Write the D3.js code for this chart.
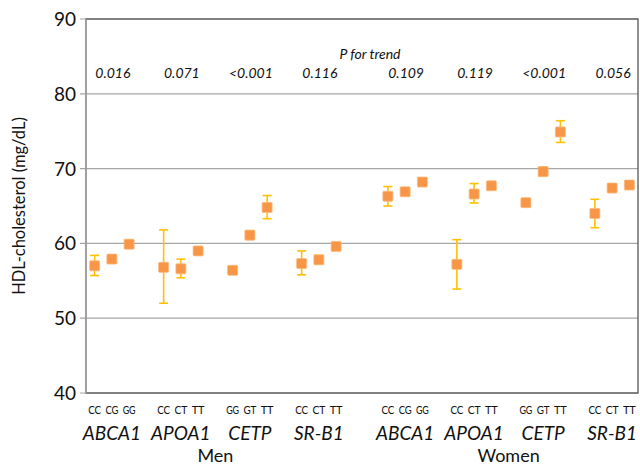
<!DOCTYPE html>
<html>
<head>
<meta charset="utf-8">
<script src="https://cdn.jsdelivr.net/npm/d3@7"></script>
<style>
  body { margin: 0; background: #fff; }
  text { font-family: Lato, "Open Sans", sans-serif; fill: #111; }
</style>
</head>
<body>
<div id="chart"></div>
<script>
// genes, genotypes and p-values per sex
let sexes = ['Men', 'Women'];
let genes = ['ABCA1', 'APOA1', 'CETP', 'SR-B1'];
let genotypes = [['CC', 'CG', 'GG'], ['CC', 'CT', 'TT'], ['GG', 'GT', 'TT'], ['CC', 'CT', 'TT']];
let pTrend = [['0.016', '0.071', '<0.001', '0.116'], ['0.109', '0.119', '<0.001', '0.056']];

// mean HDL per genotype, in gene order
let menMean = [57.0, 57.9, 59.9, 56.8, 56.6, 59.0, 56.4, 61.1, 64.8, 57.3, 57.8, 59.6];
let menLow = [55.7, 57.4, 59.4, 52.0, 55.4, 58.6, 56.1, 60.6, 63.3, 55.8, 57.3, 59.2];
let menHigh = [58.4, 58.4, 60.4, 61.8, 57.9, 59.5, 56.8, 61.7, 66.4, 59.0, 58.4, 60.1];
let womenMean = [66.3, 66.9, 68.2, 57.2, 66.6, 67.7, 65.45, 69.6, 74.9, 64.0, 67.4, 67.8];
let womenLow = [65.0, 66.4, 67.8, 53.9, 65.4, 67.3, 65.1, 69.0, 73.5, 62.1, 66.9, 67.4];
let womenHigh = [67.6, 67.4, 68.6, 60.5, 68.0, 68.1, 65.8, 70.2, 76.4, 65.9, 67.9, 68.2];

let yTicks = [40, 50, 60, 70, 80, 90];

let width = 640, height = 467;
let margin = { top: 19, right: 2, bottom: 74, left: 86 };

let svg = d3.select('#chart').append('svg')
  .attr('width', width)
  .attr('height', height);

// 32 slots: 4 genes x (3 genotypes + gap) per sex, with an extra gap between sexes
let slotIndex = (s, g, j) => s * 17 + g * 4 + j;
let slots = d3.range(32);

let x = d3.scaleBand()
  .domain(slots)
  .range([margin.left, width - margin.right]);

let y = d3.scaleLinear()
  .domain([40, 90])
  .range([height - margin.bottom, margin.top]);

// gridlines
svg.append('g')
  .selectAll('line')
  .data(yTicks)
  .enter().append('line')
  .attr('x1', margin.left - 6)
  .attr('x2', width - margin.right)
  .attr('y1', d => y(d))
  .attr('y2', d => y(d))
  .attr('stroke', '#a6a6a6')
  .attr('stroke-width', 1.2);

// frame
svg.append('rect')
  .attr('x', margin.left)
  .attr('y', margin.top)
  .attr('width', width - margin.right - margin.left)
  .attr('height', y(40) - margin.top)
  .attr('fill', 'none')
  .attr('stroke', '#555')
  .attr('stroke-width', 1.3);

svg.append('line')
  .attr('x1', margin.left).attr('x2', margin.left)
  .attr('y1', margin.top).attr('y2', y(40))
  .attr('stroke', '#a6a6a6')
  .attr('stroke-width', 1.5);

// y labels
svg.append('g')
  .selectAll('text')
  .data(yTicks)
  .enter().append('text')
  .attr('x', margin.left - 10)
  .attr('y', d => y(d) + 7)
  .attr('text-anchor', 'end')
  .attr('font-size', 19)
  .text(d => d);

svg.append('text')
  .attr('transform', `translate(25, ${(margin.top + y(40)) / 2}) rotate(-90)`)
  .attr('text-anchor', 'middle')
  .attr('font-size', 16.5)
  .text('HDL-cholesterol (mg/dL)');

// build point data
let points = [];
sexes.forEach((sex, s) => {
  let mean = s === 0 ? menMean : womenMean;
  let low = s === 0 ? menLow : womenLow;
  let high = s === 0 ? menHigh : womenHigh;
  genes.forEach((gene, g) => {
    genotypes[g].forEach((gt, j) => {
      let k = g * 3 + j;
      points.push({ slot: slotIndex(s, g, j), gt: gt, mean: mean[k], low: low[k], high: high[k] });
    });
  });
});

let cx = d => x(d.slot) + x.bandwidth() / 2;

// error bars
let eb = svg.append('g')
  .attr('stroke', '#ffc000')
  .attr('stroke-width', 1.6);

eb.selectAll('line.v')
  .data(points)
  .enter().append('line')
  .attr('class', 'v')
  .attr('x1', cx).attr('x2', cx)
  .attr('y1', d => y(d.low)).attr('y2', d => y(d.high));

eb.selectAll('line.top')
  .data(points)
  .enter().append('line')
  .attr('class', 'top')
  .attr('x1', d => cx(d) - 4.5).attr('x2', d => cx(d) + 4.5)
  .attr('y1', d => y(d.high)).attr('y2', d => y(d.high));

eb.selectAll('line.bot')
  .data(points)
  .enter().append('line')
  .attr('class', 'bot')
  .attr('x1', d => cx(d) - 4.5).attr('x2', d => cx(d) + 4.5)
  .attr('y1', d => y(d.low)).attr('y2', d => y(d.low));

// markers
svg.append('g')
  .selectAll('rect')
  .data(points)
  .enter().append('rect')
  .attr('x', d => cx(d) - 5)
  .attr('y', d => y(d.mean) - 5)
  .attr('width', 10)
  .attr('height', 10)
  .attr('rx', 1)
  .attr('fill', '#f79646')
  .attr('stroke', '#fbb97e')
  .attr('stroke-width', 0.8);

// genotype labels
svg.append('g')
  .selectAll('text')
  .data(points)
  .enter().append('text')
  .attr('x', cx)
  .attr('y', 414)
  .attr('text-anchor', 'middle')
  .attr('font-size', 11)
  .attr('textLength', 13)
  .attr('lengthAdjust', 'spacingAndGlyphs')
  .text(d => d.gt);

// gene names and p-values
sexes.forEach((sex, s) => {
  genes.forEach((gene, g) => {
    let mid = x(slotIndex(s, g, 1)) + x.bandwidth() / 2;
    svg.append('text')
      .attr('x', mid)
      .attr('y', 440)
      .attr('text-anchor', 'middle')
      .attr('font-size', 19)
      .attr('font-style', 'italic')
      .text(gene);
    svg.append('text')
      .attr('x', mid + 1)
      .attr('y', 78)
      .attr('text-anchor', 'middle')
      .attr('font-size', 14)
      .attr('font-style', 'italic')
      .text(pTrend[s][g]);
  });
  let first = x(slotIndex(s, 0, 0));
  let last = x(slotIndex(s, 3, 2)) + x.bandwidth();
  svg.append('text')
    .attr('x', (first + last) / 2)
    .attr('y', 462)
    .attr('text-anchor', 'middle')
    .attr('font-size', 18)
    .text(sex);
});

svg.append('text')
  .attr('x', 370)
  .attr('y', 59)
  .attr('text-anchor', 'middle')
  .attr('font-size', 14)
  .attr('font-style', 'italic')
  .text('P for trend');
</script>
</body>
</html>
